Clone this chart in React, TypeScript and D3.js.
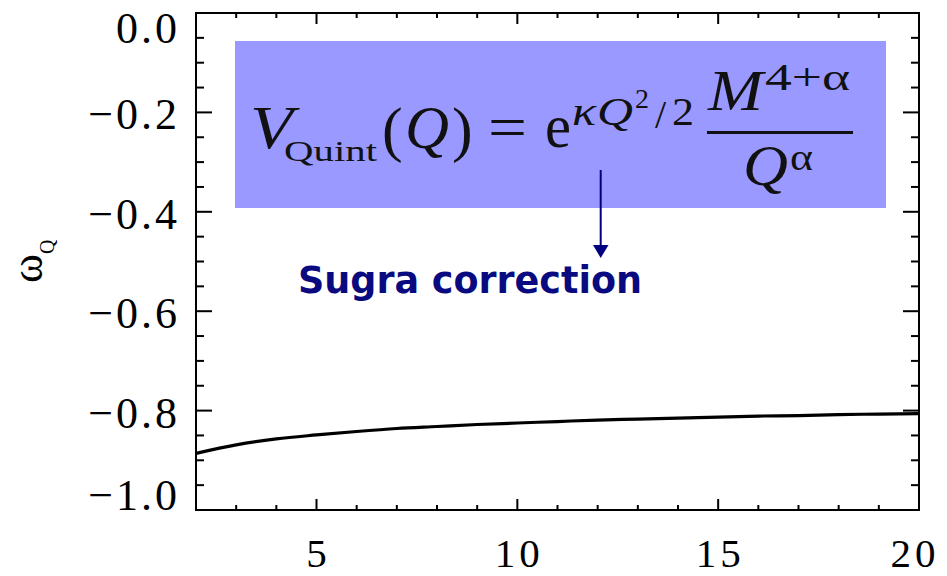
import React from "react";
import * as d3 from "d3";

// ---- data ----
const qValues = [2, 3, 4, 5, 6, 7, 8, 9, 10, 11, 12, 13, 14, 15, 16, 17, 18, 19, 20];
const wValues = [-0.886, -0.869, -0.857, -0.849, -0.842, -0.836, -0.832, -0.828, -0.825, -0.822, -0.819, -0.817, -0.815, -0.813, -0.811, -0.81, -0.808, -0.807, -0.806];
const xMajorTicks = [5, 10, 15, 20];
const yMajorTicks = [0.0, -0.2, -0.4, -0.6, -0.8, -1.0];
const annotationText = "Sugra correction";

const W = 947;
const H = 576;
const M = { left: 196, top: 13, right: 919, bottom: 510 };

export default function App() {
  const x = d3.scaleLinear().domain([2, 20]).range([M.left, M.right]);
  const y = d3.scaleLinear().domain([-1, 0]).range([M.bottom, M.top]);

  const xMinor = d3.range(2, 20.001, 1).filter((v) => !xMajorTicks.includes(v));
  const yMinor = d3.range(-1, 0.0001, 0.05).filter((v) => !yMajorTicks.some((t) => Math.abs(t - v) < 1e-6));

  const line = d3
    .line<number>()
    .x((_, i) => x(qValues[i]))
    .y((d) => y(d))
    .curve(d3.curveMonotoneX);

  const fmt = (v: number) => (v < 0 ? "\u2212" : "") + Math.abs(v).toFixed(1);

  const serif = "'Liberation Serif', 'Times New Roman', serif";
  const tickFont = { fontFamily: serif, fontSize: 44, letterSpacing: 3 } as React.CSSProperties;
  const xTickFont = { fontFamily: serif, fontSize: 41, letterSpacing: 4 } as React.CSSProperties;

  const xMajLen = 11, xMinLen = 5, yMajLen = 16, yMinLen = 8;

  return (
    <svg width={W} height={H} style={{ position: "absolute", left: 0, top: 0, background: "#fff" }}>
      {/* ticks */}
      <g stroke="#000" strokeWidth={2}>
        {xMajorTicks.map((t) => (
          <g key={"xM" + t}>
            <line x1={x(t)} x2={x(t)} y1={M.bottom} y2={M.bottom - xMajLen} />
            <line x1={x(t)} x2={x(t)} y1={M.top} y2={M.top + xMajLen} />
          </g>
        ))}
        {xMinor.map((t) => (
          <g key={"xm" + t}>
            <line x1={x(t)} x2={x(t)} y1={M.bottom} y2={M.bottom - xMinLen} />
            <line x1={x(t)} x2={x(t)} y1={M.top} y2={M.top + xMinLen} />
          </g>
        ))}
        {yMajorTicks.map((t) => (
          <g key={"yM" + t}>
            <line x1={M.left} x2={M.left + yMajLen} y1={y(t)} y2={y(t)} />
            <line x1={M.right} x2={M.right - yMajLen} y1={y(t)} y2={y(t)} />
          </g>
        ))}
        {yMinor.map((t, i) => (
          <g key={"ym" + i}>
            <line x1={M.left} x2={M.left + yMinLen} y1={y(t)} y2={y(t)} />
            <line x1={M.right} x2={M.right - yMinLen} y1={y(t)} y2={y(t)} />
          </g>
        ))}
      </g>

      {/* frame */}
      <rect x={M.left} y={M.top} width={M.right - M.left} height={M.bottom - M.top} fill="none" stroke="#000" strokeWidth={2} />

      {/* curve */}
      <path d={line(wValues) || ""} fill="none" stroke="#000" strokeWidth={3.2} />

      {/* y tick labels */}
      {yMajorTicks.map((t) => {
        const base = Math.min(Math.max(y(t) + 17, M.top + 30), M.bottom);
        return (
          <text key={"yl" + t} x={180} y={base} textAnchor="end" style={tickFont} fill="#000">
            {fmt(t)}
          </text>
        );
      })}

      {/* x tick labels */}
      {xMajorTicks.map((t) => (
        <text key={"xl" + t} x={Math.min(x(t), 913) + 2} y={567} textAnchor="middle" style={xTickFont} fill="#000">
          {t}
        </text>
      ))}

      {/* y axis title: omega_Q rotated */}
      <text transform="translate(42,283) rotate(-90)" fontFamily={serif} fontSize={44} fill="#000">
        <tspan>ω</tspan>
        <tspan dy={12} fontSize={20}>Q</tspan>
      </text>

      {/* formula box */}
      <rect x={235} y={41} width={651} height={167} fill="#9999ff" />
      <g fontFamily={serif} fill="#111">
        <text x={250} y={148} fontSize={62} fontStyle="italic" textLength={43} lengthAdjust="spacingAndGlyphs">V</text>
        <text x={284} y={161} fontSize={30} textLength={93} lengthAdjust="spacingAndGlyphs">Quint</text>
        <text x={382} y={150} fontSize={62}>(</text>
        <text x={405} y={148} fontSize={62} fontStyle="italic" textLength={44} lengthAdjust="spacingAndGlyphs">Q</text>
        <text x={452} y={150} fontSize={62}>)</text>
        <text x={488} y={148} fontSize={62} textLength={39} lengthAdjust="spacingAndGlyphs">=</text>
        <text x={545} y={147} fontSize={62} textLength={26} lengthAdjust="spacingAndGlyphs">e</text>
        <text x={572} y={125} fontSize={40} fontStyle="italic" textLength={24} lengthAdjust="spacingAndGlyphs">κ</text>
        <text x={597} y={125} fontSize={40} fontStyle="italic" textLength={36} lengthAdjust="spacingAndGlyphs">Q</text>
        <text x={635} y={108} fontSize={28}>2</text>
        <text x={655} y={128} fontSize={40}>/</text>
        <text x={672} y={125} fontSize={40} textLength={22} lengthAdjust="spacingAndGlyphs">2</text>
        <rect x={707} y={131} width={146} height={3} fill="#111" />
        <text x={708} y={110} fontSize={57} fontStyle="italic" textLength={55} lengthAdjust="spacingAndGlyphs">M</text>
        <text x={765} y={90} fontSize={38} textLength={85} lengthAdjust="spacingAndGlyphs">4+α</text>
        <text x={743} y={185} fontSize={57} fontStyle="italic" textLength={45} lengthAdjust="spacingAndGlyphs">Q</text>
        <text x={790} y={170} fontSize={38} textLength={23} lengthAdjust="spacingAndGlyphs">α</text>
      </g>

      {/* arrow */}
      <line x1={600.7} x2={600.7} y1={170} y2={247} stroke="#000080" strokeWidth={2} />
      <path d="M593,245 L608.5,245 L600.7,258 Z" fill="#000080" />

      {/* annotation */}
      <text
        x={298}
        y={293}
        fontFamily="'Comic Sans MS', 'DejaVu Sans', sans-serif"
        fontWeight="bold"
        fontSize={37}
        fill="#0a0a80"
        textLength={344}
        lengthAdjust="spacingAndGlyphs"
      >
        {annotationText}
      </text>
    </svg>
  );
}
